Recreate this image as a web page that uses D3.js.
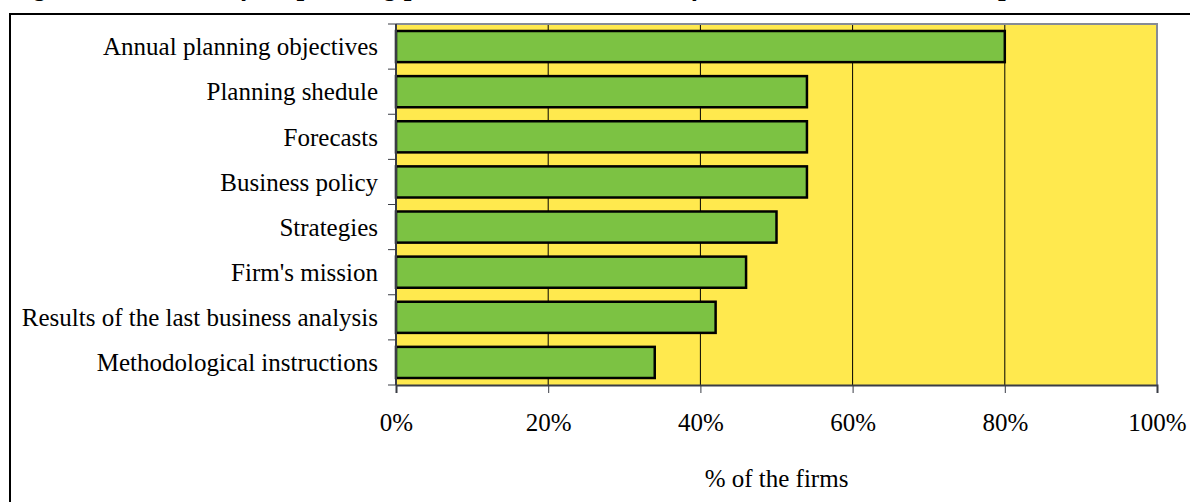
<!DOCTYPE html>
<html>
<head>
<meta charset="utf-8">
<script src="https://cdn.jsdelivr.net/npm/d3@7"></script>
<style>
  body { margin: 0; background: #fff; }
  svg { display: block; }
  .lbl { font-family: "Liberation Serif", "DejaVu Serif", serif; fill: #000; }
</style>
</head>
<body>
<div id="chart"></div>
<script>
// values
var categories = [
  "Annual planning objectives",
  "Planning shedule",
  "Forecasts",
  "Business policy",
  "Strategies",
  "Firm's mission",
  "Results of the last business analysis",
  "Methodological instructions"
];
var shares = [80, 54, 54, 54, 50, 46, 42, 34];
var tickValues = [0, 20, 40, 60, 80, 100];
var axisTitle = "% of the firms";
var figureTitle = "Figure 5: Contents of the planning process documents in the firms considered in the sample";

var W = 1190, H = 502;
var m = [24, 33, 117, 396]; // top right bottom left
var w = W - m[1] - m[3],
    h = H - m[0] - m[2];

var svg = d3.select("#chart").append("svg")
  .attr("width", W)
  .attr("height", H);

// figure title, mostly above the top edge (only descenders show)
svg.append("text")
  .attr("x", 10)
  .attr("y", -5)
  .attr("font-family", "Liberation Serif, serif")
  .attr("font-weight", "bold")
  .attr("font-style", "italic")
  .attr("font-size", 27)
  .text(figureTitle);

// outer frame
svg.append("rect")
  .attr("x", 10)
  .attr("y", 14)
  .attr("width", W + 20)
  .attr("height", H + 20)
  .attr("fill", "none")
  .attr("stroke", "#000")
  .attr("stroke-width", 2);

var x = d3.scaleLinear().domain([0, 100]).range([0, w]);
var y = d3.scaleBand().domain(categories).range([0, h]).paddingInner(0.31).paddingOuter(0.155);

var g = svg.append("g").attr("transform", "translate(" + m[3] + "," + m[0] + ")");

// plot background
g.append("rect")
  .attr("width", w)
  .attr("height", h)
  .attr("fill", "#FFE94E");

// vertical gridlines
g.append("g").selectAll("line")
  .data(tickValues.slice(1, -1))
  .enter().append("line")
  .attr("x1", function(d) { return x(d); })
  .attr("x2", function(d) { return x(d); })
  .attr("y1", 0)
  .attr("y2", h)
  .attr("stroke", "#000")
  .attr("stroke-width", 1);

// top and right plot border
g.append("path")
  .attr("d", "M0,0H" + w + "V" + h)
  .attr("fill", "none")
  .attr("stroke", "#868B96")
  .attr("stroke-width", 2);

// bars
g.append("g").selectAll("rect")
  .data(categories)
  .enter().append("rect")
  .attr("x", x(0))
  .attr("y", function(d) { return y(d); })
  .attr("width", function(d, i) { return x(shares[i]) - x(0); })
  .attr("height", y.bandwidth())
  .attr("fill", "#7CC243")
  .attr("stroke", "#000")
  .attr("stroke-width", 2.5);

// x axis
var xAxis = d3.axisBottom(x)
  .tickValues(tickValues)
  .tickSize(8)
  .tickPadding(20)
  .tickFormat(function(d) { return d + "%"; });

var gx = g.append("g")
  .attr("transform", "translate(0," + h + ")")
  .call(xAxis);
gx.select(".domain").attr("stroke", "#3A3D45").attr("stroke-width", 2);
gx.selectAll(".tick line").attr("stroke", "#3A3D45");
gx.selectAll(".tick text")
  .attr("class", "lbl")
  .attr("font-size", 25)
  .attr("dy", "0.71em");

// y axis: category boundaries as ticks
g.append("line")
  .attr("x1", 0).attr("x2", 0)
  .attr("y1", 0).attr("y2", h)
  .attr("stroke", "#3A3D45")
  .attr("stroke-width", 2);
g.append("g").selectAll("line")
  .data(d3.range(categories.length + 1))
  .enter().append("line")
  .attr("x1", -8).attr("x2", 0)
  .attr("y1", function(i) { return i * h / categories.length; })
  .attr("y2", function(i) { return i * h / categories.length; })
  .attr("stroke", "#3A3D45")
  .attr("stroke-width", 1);

g.append("g").selectAll("text")
  .data(categories)
  .enter().append("text")
  .attr("class", "lbl")
  .attr("x", -18)
  .attr("y", function(d) { return y(d) + y.bandwidth() / 2; })
  .attr("dy", "0.35em")
  .attr("text-anchor", "end")
  .attr("font-size", 25)
  .text(function(d) { return d; });

// axis title
g.append("text")
  .attr("class", "lbl")
  .attr("x", w / 2)
  .attr("y", h + 102)
  .attr("text-anchor", "middle")
  .attr("font-size", 25)
  .text(axisTitle);
</script>
</body>
</html>
